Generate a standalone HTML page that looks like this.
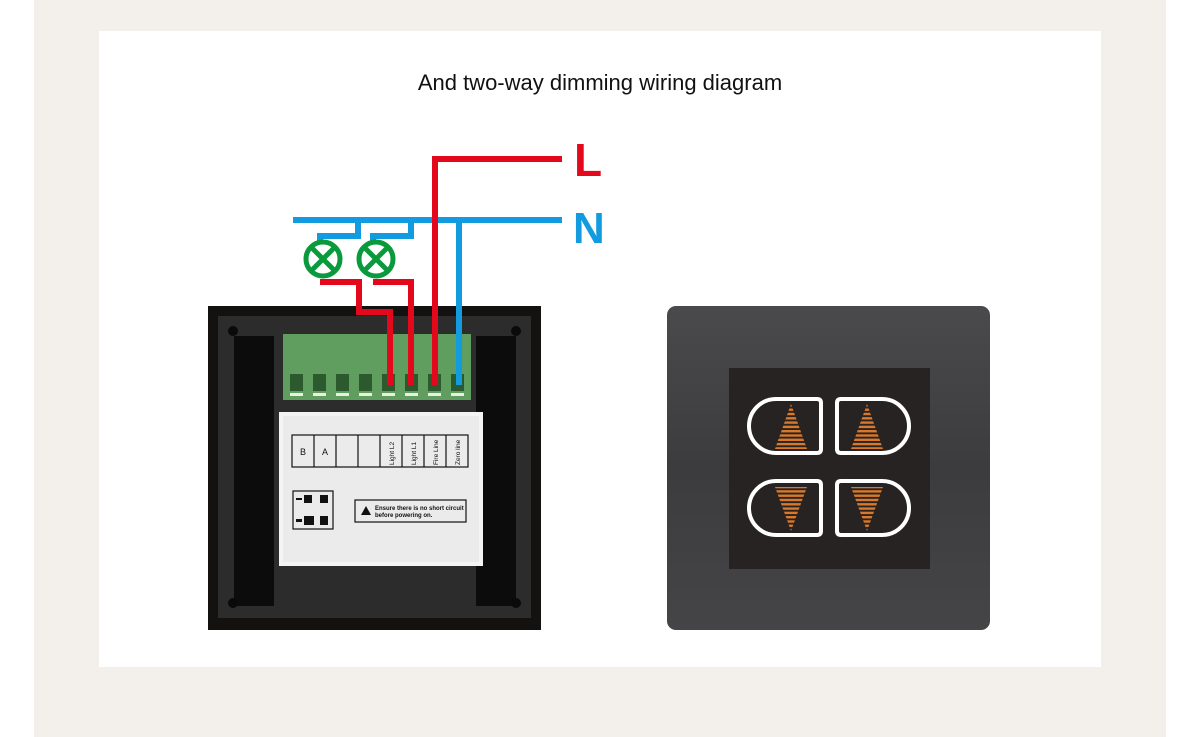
<!DOCTYPE html>
<html><head><meta charset="utf-8"><style>
html,body{margin:0;padding:0;background:#fff;width:1200px;height:737px;overflow:hidden}
svg{display:block}
</style></head><body>
<svg width="1200" height="737" viewBox="0 0 1200 737" xmlns="http://www.w3.org/2000/svg">
<defs>
<pattern id="st" width="6" height="4.3" patternUnits="userSpaceOnUse"><rect width="6" height="2.4" fill="#d9782a"/></pattern>
<linearGradient id="br" x1="0" y1="0" x2="0" y2="1">
<stop offset="0" stop-color="#4a4a4c"/><stop offset="0.5" stop-color="#3c3c3e"/><stop offset="1" stop-color="#454547"/></linearGradient>
</defs>
<rect x="34" y="0" width="1132" height="737" fill="#f3f0ec"/>
<rect x="99" y="31" width="1002" height="636" fill="#fff"/>
<text x="600" y="90" text-anchor="middle" font-family="Liberation Sans, sans-serif" font-size="22" fill="#111">And two-way dimming wiring diagram</text>

<rect x="208" y="306" width="333" height="324" fill="#141210"/>
<rect x="218" y="316" width="313" height="302" fill="#2d2c2c"/>
<rect x="234" y="336" width="40" height="270" fill="#0c0c0c"/>
<rect x="476" y="336" width="40" height="270" fill="#0c0c0c"/>
<circle cx="233" cy="331" r="5" fill="#0a0a0a"/><circle cx="516" cy="331" r="5" fill="#0a0a0a"/>
<circle cx="233" cy="603" r="5" fill="#0a0a0a"/><circle cx="516" cy="603" r="5" fill="#0a0a0a"/>
<rect x="283" y="334" width="188" height="66" fill="#5f9e5e"/>
<g fill="#2c5a2e">
<rect x="290" y="374" width="13" height="17"/><rect x="313" y="374" width="13" height="17"/><rect x="336" y="374" width="13" height="17"/><rect x="359" y="374" width="13" height="17"/><rect x="382" y="374" width="13" height="17"/><rect x="405" y="374" width="13" height="17"/><rect x="428" y="374" width="13" height="17"/><rect x="451" y="374" width="13" height="17"/>
</g>
<g fill="#e8f0e0">
<rect x="290" y="393" width="13" height="3"/><rect x="313" y="393" width="13" height="3"/><rect x="336" y="393" width="13" height="3"/><rect x="359" y="393" width="13" height="3"/><rect x="382" y="393" width="13" height="3"/><rect x="405" y="393" width="13" height="3"/><rect x="428" y="393" width="13" height="3"/><rect x="451" y="393" width="13" height="3"/>
</g>
<rect x="279" y="412" width="204" height="154" fill="#f4f4f4"/>
<rect x="283" y="416" width="196" height="146" fill="#ebebeb"/>
<g fill="none" stroke="#111" stroke-width="1.2">
<rect x="292" y="435" width="176" height="32"/>
<line x1="314" y1="435" x2="314" y2="467"/><line x1="336" y1="435" x2="336" y2="467"/><line x1="358" y1="435" x2="358" y2="467"/><line x1="380" y1="435" x2="380" y2="467"/><line x1="402" y1="435" x2="402" y2="467"/><line x1="424" y1="435" x2="424" y2="467"/><line x1="446" y1="435" x2="446" y2="467"/>
<rect x="293" y="491" width="40" height="38"/>
<rect x="355" y="500" width="111" height="22"/>
</g>
<g font-family="Liberation Sans, sans-serif" fill="#111">
<text x="303" y="455" font-size="9" text-anchor="middle">B</text>
<text x="325" y="455" font-size="9" text-anchor="middle">A</text>
<g font-size="6.5">
<text transform="translate(394,465) rotate(-90)">Light L2</text>
<text transform="translate(416,465) rotate(-90)">Light L1</text>
<text transform="translate(438,465) rotate(-90)">Fire Line</text>
<text transform="translate(460,465) rotate(-90)">Zero line</text>
</g>
<text x="375" y="510" font-size="6" font-weight="bold">Ensure there is no short circuit</text>
<text x="375" y="517" font-size="6" font-weight="bold">before powering on.</text>
</g>
<polygon points="366,506 361,515 371,515" fill="#111"/>
<g fill="#111"><rect x="304" y="495" width="8" height="8"/><rect x="320" y="495" width="8" height="8"/><rect x="304" y="516" width="10" height="9"/><rect x="320" y="516" width="8" height="9"/><rect x="296" y="498" width="6" height="2"/><rect x="296" y="519" width="6" height="3"/></g>

<g fill="none" stroke-width="6" stroke-linejoin="miter" stroke-linecap="butt">
<path d="M293 220 H562" stroke="#139be0"/>
<path d="M358 220 V236 H320 V242" stroke="#139be0"/>
<path d="M411 220 V236 H373 V242" stroke="#139be0"/>
<path d="M459 220 V385" stroke="#139be0"/>
<path d="M562 159 H435 V385" stroke="#e3081c"/>
<path d="M320 282 H359 V312 H390 V385" stroke="#e3081c"/>
<path d="M373 282 H411 V385" stroke="#e3081c"/>
</g>
<g fill="none" stroke="#0a9a3c" stroke-width="5">
<circle cx="323" cy="259" r="17"/><circle cx="376" cy="259" r="17"/>
<path d="M311 247 L335 271 M335 247 L311 271"/><path d="M364 247 L388 271 M388 247 L364 271"/>
</g>
<text x="574" y="176" font-family="Liberation Sans, sans-serif" font-weight="bold" font-size="46" fill="#e3081c">L</text>
<text x="573" y="243" font-family="Liberation Sans, sans-serif" font-weight="bold" font-size="44" fill="#139be0">N</text>

<rect x="667" y="306" width="323" height="324" rx="9" fill="url(#br)"/>
<rect x="729" y="368" width="201" height="201" fill="#262322"/>
<g fill="none" stroke="#fff" stroke-width="4">
<path d="M817 399 H776 A27 27 0 0 0 776 453 H817 Q821 453 821 449 V403 Q821 399 817 399 Z"/>
<path d="M841 399 H882 A27 27 0 0 1 882 453 H841 Q837 453 837 449 V403 Q837 399 841 399 Z"/>
<path d="M817 481 H776 A27 27 0 0 0 776 535 H817 Q821 535 821 531 V485 Q821 481 817 481 Z"/>
<path d="M841 481 H882 A27 27 0 0 1 882 535 H841 Q837 535 837 531 V485 Q837 481 841 481 Z"/>
</g>
<g fill="url(#st)">
<polygon points="791,404 775,449 807,449"/>
<polygon points="867,404 851,449 883,449"/>
<polygon points="775,487 807,487 791,531"/>
<polygon points="851,487 883,487 867,531"/>
</g>
</svg>
</body></html>
